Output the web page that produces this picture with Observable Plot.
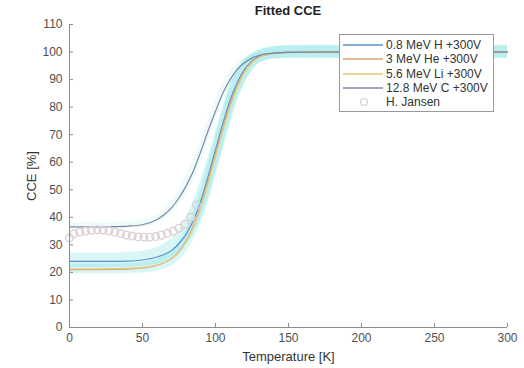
<!DOCTYPE html>
<html>
<head>
<meta charset="utf-8">
<script src="https://cdn.jsdelivr.net/npm/d3@7"></script>
<script src="https://cdn.jsdelivr.net/npm/@observablehq/plot@0.6"></script>
<style>
  body { margin: 0; background: #fff; font-family: "Liberation Sans", Arial, sans-serif; }
  #wrap { position: relative; width: 524px; height: 368px; }
  #title { position: absolute; left: 0; top: 0; height: 20px; line-height: 21px; font-size: 13px; font-weight: bold; color: #222;
           text-align: center; padding-left: 52px; box-sizing: border-box; width: 524px; }
  #legend { position: absolute; left: 339px; top: 34px; width: 155px; height: 78px;
            border: 1px solid #9a9a9a; background: #fff; box-sizing: border-box; }
  .row { position: absolute; left: 0; height: 14px; font-size: 12px; color: #333; line-height: 14px; }
  .row svg { position: absolute; left: 3px; top: 0; }
  .row span { position: absolute; left: 46px; white-space: nowrap; }
</style>
</head>
<body>
<div id="wrap">
  <div id="chart"></div>
  <div id="title">Fitted CCE</div>
  <div id="legend"></div>
</div>
<script>
// ---- data ----
const temps   = [0, 10, 20, 30, 40, 50, 60, 65, 70, 75, 80, 85, 90, 95, 100, 105, 110, 115, 120, 125, 130, 140, 150, 175, 200, 250, 300];
const cceH    = [24, 24, 24, 24, 24.1, 24.5, 25.6, 26.6, 28, 30.5, 34, 39, 46, 55, 64.5, 74, 82.5, 89, 93.8, 96.8, 98.4, 99.6, 99.9, 100, 100, 100, 100];
const cceHe   = [21, 21, 21, 21.1, 21.2, 21.6, 22.6, 23.6, 25, 27.6, 31.5, 37, 44.5, 53.5, 63, 72.5, 81, 88, 93.2, 96.4, 98.2, 99.5, 99.9, 100, 100, 100, 100];
const cceLi   = [21.3, 21.3, 21.3, 21.4, 21.5, 21.8, 22.7, 23.6, 25, 27.4, 31.2, 36.5, 43.8, 52.5, 62, 71.5, 80, 87.3, 92.8, 96.2, 98.1, 99.5, 99.9, 100, 100, 100, 100];
const cceC    = [36.5, 36.5, 36.5, 36.6, 36.8, 37.3, 39.2, 41, 43.5, 47, 51.5, 57, 64, 71.5, 78.5, 85, 90, 93.8, 96.2, 97.8, 98.8, 99.6, 99.9, 100, 100, 100, 100];
const bandHLo = [21.8, 21.8, 21.8, 21.8, 21.9, 22.2, 23, 23.8, 25, 27, 30, 34, 39.5, 47, 56, 65.5, 75, 83, 89, 93.5, 96, 97.5, 97.6, 97.6, 97.6, 97.6, 97.6];
const bandHHi = [27, 27, 27, 27, 27.2, 27.8, 29, 30.3, 32.3, 35.5, 40, 46, 53.5, 62, 71, 80, 88, 94, 97.5, 99.5, 100.8, 102, 102.4, 102.5, 102.5, 102.5, 102.5];
const bandHeLo = [19.5, 19.5, 19.5, 19.5, 19.6, 19.8, 20.4, 21.2, 22.3, 24.3, 27.5, 32, 38, 45.5, 54.5, 64, 73.5, 82, 88.5, 93, 95.8, 97.5, 97.8, 97.8, 97.8, 97.8, 97.8];
const bandHeHi = [23, 23, 23, 23, 23.2, 23.6, 24.8, 26, 27.8, 31, 35.5, 42, 50, 59.5, 69, 78.5, 87, 93, 96.8, 99, 100.5, 101.8, 102.2, 102.3, 102.3, 102.3, 102.3];
const bandCLo = [35.6, 35.6, 35.6, 35.7, 35.9, 36.3, 37.8, 39.3, 41.5, 44.5, 48.5, 53.5, 60, 67.5, 75, 82, 87.5, 92, 95, 97, 98.2, 99.2, 99.6, 99.8, 99.8, 99.8, 99.8];
const bandCHi = [38, 38, 38, 38.1, 38.4, 39, 41, 43, 46, 50, 55, 61, 68, 75.5, 82.5, 88.5, 93, 96, 97.8, 99, 99.7, 100.3, 100.5, 100.5, 100.5, 100.5, 100.5];
const jansenT   = [0, 3, 7, 11, 15, 19, 23, 27, 31, 35, 39, 43, 47, 51, 55, 59, 63, 67, 71, 75, 79, 83, 87];
const jansenCCE = [32.5, 34, 34.6, 35, 35.3, 35.5, 35.4, 35.1, 34.6, 34.1, 33.6, 33.2, 32.9, 32.8, 32.8, 33.0, 33.5, 34.2, 35.0, 36.0, 37.5, 40, 44.5];
const xTicks = [0, 50, 100, 150, 200, 250, 300];
const yTicks = [0, 10, 20, 30, 40, 50, 60, 70, 80, 90, 100, 110];
const seriesNames  = ["0.8 MeV H +300V", "3 MeV He +300V", "5.6 MeV Li +300V", "12.8 MeV C +300V"];
const seriesColors = ["#5f92c8", "#dca078", "#e9c977", "#7f86a6"];
const jansenName = "H. Jansen";
const bandColor = "#52d6d6";
const jansenColor = "#dccfd3";

// ---- tables ----
const rows = temps.map((t, i) => ({
  t, h: cceH[i], he: cceHe[i], li: cceLi[i], c: cceC[i],
  hLo: bandHLo[i], hHi: bandHHi[i], heLo: bandHeLo[i], heHi: bandHeHi[i],
  cLo: bandCLo[i], cHi: bandCHi[i]
}));
const jansen = jansenT.map((t, i) => ({t, v: jansenCCE[i]}));
const keys = ["h", "he", "li", "c"];

const axisColor = "#8c8c8c";
const tickLenX = 4 / 1.46;   // ~4px in data units
const tickLenY = 4 / 2.75;

const chart = Plot.plot({
  width: 524,
  height: 368,
  marginTop: 24,
  marginLeft: 69,
  marginRight: 17,
  marginBottom: 41,
  style: {fontFamily: "'Liberation Sans', Arial, sans-serif", fontSize: "12px", color: "#505050", background: "#fff"},
  x: {domain: [0, 300]},
  y: {domain: [0, 110]},
  marks: [
    Plot.areaY(rows, {x: "t", y1: "cLo", y2: "cHi", fill: bandColor, fillOpacity: 0.1, curve: "monotone-x"}),
    Plot.areaY(rows, {x: "t", y1: "hLo", y2: "hHi", fill: bandColor, fillOpacity: 0.22, curve: "monotone-x"}),
    Plot.areaY(rows, {x: "t", y1: "heLo", y2: "heHi", fill: bandColor, fillOpacity: 0.22, curve: "monotone-x"}),
    ...keys.map((k, i) => Plot.line(rows, {x: "t", y: k, stroke: seriesColors[i], strokeWidth: 1.2, curve: "monotone-x"})),
    Plot.dot(jansen, {x: "t", y: "v", r: 3.8, stroke: jansenColor, strokeWidth: 1.4, fill: "none"}),
    Plot.ruleY([0], {x1: 0, x2: 300, stroke: axisColor}),
    Plot.ruleX([0], {y1: 0, y2: 110, stroke: axisColor}),
    Plot.ruleX(xTicks, {y1: 0, y2: tickLenY, stroke: axisColor}),
    Plot.ruleY(yTicks, {x1: 0, x2: tickLenX, stroke: axisColor}),
    Plot.axisX({ticks: xTicks, tickSize: 0, tickPadding: 6, fontSize: 12, label: "Temperature [K]",
                labelAnchor: "center", labelArrow: "none", labelOffset: 33}),
    Plot.axisY({ticks: yTicks, tickSize: 0, tickPadding: 7, fontSize: 12, label: "CCE [%]",
                labelAnchor: "center", labelArrow: "none", labelOffset: 43})
  ]
});
chart.querySelectorAll("g[aria-label='x-axis label'] text, g[aria-label='y-axis label'] text")
  .forEach(t => { t.style.fontSize = "13px"; t.setAttribute("fill", "#333"); });
document.getElementById("chart").appendChild(chart);

// ---- legend ----
const legend = document.getElementById("legend");
const entries = seriesNames.map((n, i) => ({name: n, color: seriesColors[i], type: "line"}))
  .concat([{name: jansenName, color: jansenColor, type: "dot"}]);
entries.forEach((e, i) => {
  const row = document.createElement("div");
  row.className = "row";
  row.style.top = (3 + i * 14.3) + "px";
  row.style.width = "150px";
  const sym = e.type === "line"
    ? `<svg width="40" height="14"><line x1="0" x2="40" y1="7" y2="7" stroke="${e.color}" stroke-width="1.3"/></svg>`
    : `<svg width="40" height="14"><circle cx="21" cy="7" r="3.4" fill="none" stroke="${e.color}" stroke-width="1.3"/></svg>`;
  row.innerHTML = sym + `<span>${e.name}</span>`;
  legend.appendChild(row);
});
</script>
</body>
</html>
